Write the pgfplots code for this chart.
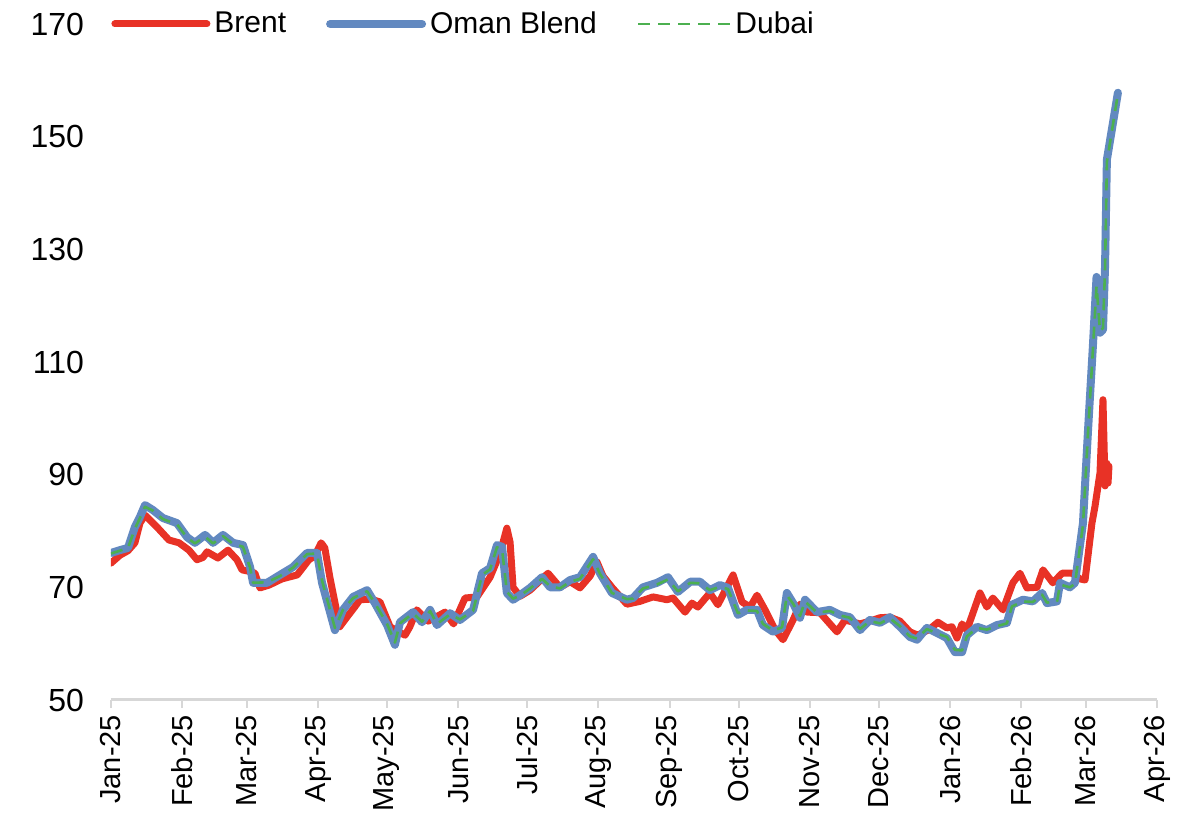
\documentclass[border=0pt]{standalone}
\usepackage{pgfplots}
\pgfplotsset{compat=1.18}
\usepackage{pgfplotstable}
\usepackage{fontspec}
\setmainfont{Liberation Sans}

\definecolor{brent}{RGB}{232,50,38}
\definecolor{oman}{RGB}{98,137,192}
\definecolor{dubai}{RGB}{76,176,80}
\definecolor{axisgray}{RGB}{215,215,215}

% x = days since 1 Jan 2025
\pgfplotstableread{
day val
0 74.3
3.9 75.7
7.4 76.5
10.4 77.9
12.6 81.4
14.8 82.8
20.0 80.7
25.2 78.4
29.6 77.9
33.9 76.6
37.4 74.9
40.0 75.3
41.8 76.3
46.5 75.2
50.9 76.6
54.8 74.9
57.0 73.1
60.5 72.8
62.6 72.5
64.8 69.9
68.8 70.4
74.4 71.5
81.0 72.2
86.1 74.9
88.5 75.5
91.4 77.9
93.0 77.0
95.2 71.8
99.5 63.0
102.6 64.7
106.0 66.5
108.3 67.8
113.0 67.9
117.0 67.4
121.4 63.0
125.5 62.0
127.9 61.5
130.0 63.0
133.0 66.0
138.0 64.0
145.3 65.6
149.0 63.5
154.0 68.1
159.2 68.3
164.9 71.8
169.2 76.0
172.2 80.5
173.6 78.0
174.9 70.0
177.9 68.4
182.3 69.5
190.1 72.5
195.3 70.0
199.7 71.0
204.0 69.9
208.4 72.0
211.4 74.5
214.0 72.0
217.9 70.0
224.4 67.0
230.0 67.5
235.8 68.3
241.8 67.8
244.5 68.1
249.7 65.6
252.7 67.2
255.3 66.5
260.5 69.0
264.0 66.9
270.6 72.2
274.5 67.4
278.0 66.5
281.0 68.6
284.5 66.0
288.8 62.5
292.3 60.7
296.7 64.2
299.7 67.0
302.7 65.6
308.4 65.5
315.8 62.1
319.3 64.2
325.8 63.5
330.1 64.0
334.5 64.6
338.8 64.7
343.2 64.0
347.5 62.1
351.0 61.5
356.2 62.6
359.7 63.8
363.6 62.8
365.8 63.0
368.0 61.0
370.2 63.5
372.3 62.4
374.9 65.4
378.0 69.0
381.0 66.5
383.6 68.1
388.0 66.0
392.3 70.8
395.4 72.5
398.4 69.9
402.8 70.0
405.4 73.1
409.7 70.8
413.7 72.5
418.0 72.5
421.5 71.5
423.7 71.3
426.7 81.4
428.0 84.3
430.2 90.3
431.5 103.3
432.4 88.0
433.2 92.0
433.7 88.5
434.1 91.5
}\brent

\pgfplotstableread{
day oman dubai
0 76.1 76.0
3.9 76.6 76.5
7.4 77.0 77.0
10.4 80.7 80.4
12.6 82.5 82.3
14.8 84.6 84.3
18.3 83.7 83.6
22.6 82.3 82.1
28.7 81.4 81.2
33.1 78.9 78.8
36.5 77.9 77.8
40.9 79.3 79.0
44.4 77.9 77.8
48.7 79.3 79.1
53.1 77.9 77.7
57.4 77.5 77.2
60.5 73.6 73.5
61.8 70.8 70.8
67.9 70.8 70.9
73.5 72.2 72.0
79.2 73.6 73.5
85.3 76.1 75.9
89.6 76.1 76.0
91.8 70.8 71.2
97.4 62.4 62.8
100.9 66.0 66.0
105.3 68.3 68.1
111.4 69.5 69.3
114.8 67.2 67.2
120.1 63.3 63.5
123.5 59.8 60.2
125.7 63.8 63.6
131.4 65.6 65.4
135.3 63.8 63.9
138.8 66.0 65.8
141.8 63.3 63.5
147.5 65.4 65.2
151.8 64.2 64.3
157.5 66.0 65.8
161.4 72.5 72.2
164.9 73.4 73.2
167.9 77.5 77.1
170.1 77.2 76.8
172.2 69.0 69.2
174.9 67.8 68.0
177.9 68.6 68.5
182.3 69.9 69.8
187.5 71.8 71.5
191.0 70.0 70.2
195.3 70.0 69.8
199.7 71.3 71.0
204.0 71.8 71.5
209.7 75.4 75.0
212.7 72.5 72.4
217.9 69.0 69.0
224.4 67.8 67.9
227.1 68.1 68.0
231.4 70.0 69.8
237.5 70.8 70.5
242.3 71.8 71.4
246.6 69.2 69.3
252.0 71.0 70.8
256.2 71.0 70.7
260.5 69.5 69.5
264.9 70.4 70.1
268.4 69.9 69.7
272.7 65.1 65.4
276.6 66.0 65.9
281.0 66.0 65.8
283.6 63.3 63.5
288.0 62.1 62.3
291.9 62.8 62.9
294.0 69.0 68.6
296.7 67.2 67.1
299.7 64.6 64.9
301.9 67.8 67.5
307.1 65.6 65.5
312.7 66.0 65.8
317.1 65.1 65.0
321.4 64.7 64.6
325.8 62.4 62.6
330.1 64.2 64.0
334.5 63.7 63.6
338.8 64.7 64.5
343.2 63.0 63.1
347.5 61.2 61.3
350.6 60.7 60.9
354.9 62.8 62.6
359.3 61.9 61.8
363.6 61.0 61.2
367.1 58.5 58.9
370.2 58.5 58.8
372.3 61.5 61.3
376.7 63.0 62.8
381.0 62.4 62.5
385.4 63.3 63.1
389.7 63.7 63.6
391.9 66.9 66.6
396.7 67.8 67.5
401.0 67.5 67.4
405.0 69.0 68.7
407.1 67.2 67.3
411.5 67.5 67.4
412.8 70.8 70.5
417.1 70.0 70.0
419.3 70.8 70.6
422.8 81.4 81.0
425.0 97.9 97.5
427.1 112.7 112.0
428.7 125.1 123.5
430.2 115.2 115.5
431.5 115.7 116.0
432.4 126.9 126.5
433.2 145.9 145.5
438.0 157.8 157.6
}\gulf

\begin{document}
\begin{tikzpicture}
\begin{axis}[
  scale only axis,
  width=523pt, height=338pt,
  xmin=0, xmax=455, ymin=50, ymax=170,
  axis lines*=left,
  x axis line style={-, draw=axisgray, line width=1.5pt},
  y axis line style={draw=none},
  xtick={0,31,59,90,120,151,181,212,243,273,304,334,365,396,424,455},
  xticklabels={Jan-25,Feb-25,Mar-25,Apr-25,May-25,Jun-25,Jul-25,Aug-25,Sep-25,Oct-25,Nov-25,Dec-25,Jan-26,Feb-26,Mar-26,Apr-26},
  xtick align=outside,
  major tick length=4pt,
  xtick style={draw=axisgray, line width=1pt},
  ytick={50,70,90,110,130,150,170},
  ytick style={draw=none},
  /pgf/number format/assume math mode=true,
  xticklabel style={rotate=90, anchor=east, font=\fontsize{14.5}{17}\selectfont},
  yticklabel style={font=\fontsize{16}{19}\selectfont, xshift=-10pt},
  legend style={at={(0,1)}, anchor=west, draw=none, fill=none,
    inner sep=0pt, font=\fontsize{15}{18}\selectfont,
    /tikz/every even column/.append style={column sep=18pt}},
  legend columns=-1,
  legend image code/.code={\draw[#1] (0pt,0pt) -- (46pt,0pt);},
  line join=round,
]
\addplot[brent, line width=3.5pt, line cap=round] table[x=day, y=val] {\brent};
\addlegendentry{Brent}
\addplot[oman, line width=4pt, line cap=round] table[x=day, y=oman] {\gulf};
\addlegendentry{Oman Blend}
\addplot[dubai, line width=1.3pt, dash pattern=on 6pt off 4pt] table[x=day, y=dubai] {\gulf};
\addlegendentry{Dubai}
\end{axis}
\pgfresetboundingbox
\useasboundingbox (-55.5pt,-64pt) rectangle (544.5pt,350pt);
\end{tikzpicture}
\end{document}
